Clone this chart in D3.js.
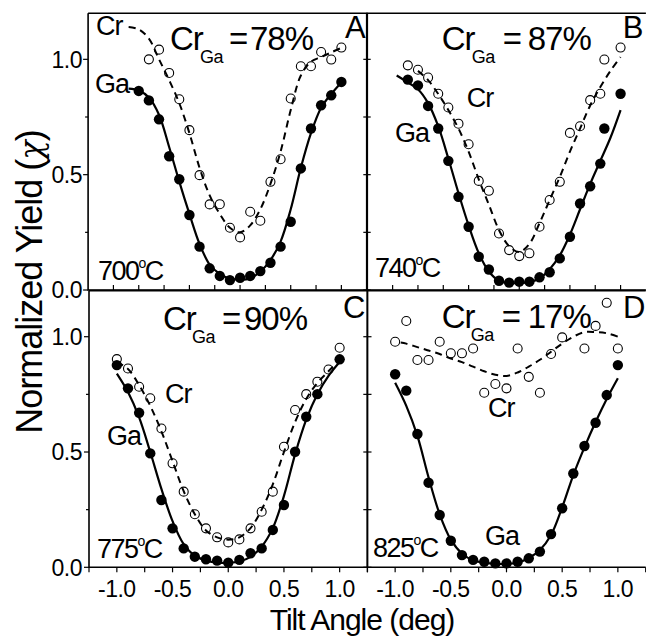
<!DOCTYPE html>
<html><head><meta charset="utf-8">
<script src="https://cdn.jsdelivr.net/npm/d3@7"></script>
<style>html,body{margin:0;padding:0;background:#fff}svg{display:block}text{font-family:"Liberation Sans",Arial,sans-serif;fill:#000}</style>
</head><body>
<script>
// ---------- DATA ----------
const tilt = [-1.0,-0.9,-0.8,-0.7,-0.6,-0.5,-0.4,-0.3,-0.2,-0.1,0.0,0.1,0.2,0.3,0.4,0.5,0.6,0.7,0.8,0.9,1.0];
const xTickLabels = ["-1.0","-0.5","0.0","0.5","1.0"];
const yTickLabels = ["0.0","0.5","1.0"];

// Panel A (700 C)
const aGaX = tilt;
const aGaY = [0.863,0.822,0.740,0.580,0.480,0.325,0.188,0.094,0.061,0.043,0.053,0.061,0.082,0.118,0.188,0.296,0.527,0.700,0.801,0.844,0.902];
const aCrX = tilt.slice(1);
const aCrY = [1.000,1.042,0.941,0.827,0.693,0.498,0.371,0.372,0.270,0.228,0.339,0.300,0.469,0.567,0.830,0.970,0.970,1.032,0.999,1.051];
const aGaFitX = [-1.1].concat(tilt);
const aGaFitY = [0.873,0.865,0.835,0.76,0.62,0.47,0.33,0.20,0.11,0.07,0.05,0.045,0.05,0.08,0.13,0.21,0.35,0.53,0.68,0.79,0.85,0.90];
const aCrFitX = [-1.1].concat(tilt);
const aCrFitY = [1.14,1.13,1.09,1.00,0.91,0.81,0.68,0.53,0.41,0.33,0.27,0.25,0.28,0.35,0.46,0.60,0.78,0.93,0.99,1.01,1.03,1.05];

// Panel B (740 C)
const bX = [-1.1,-1.0,-0.9,-0.8,-0.7,-0.6,-0.5,-0.4,-0.3,-0.2,-0.1,0.0,0.1,0.2,0.3,0.4,0.5,0.6,0.7,0.8,0.84,1.0];
const bGaY = [0.912,0.887,0.798,0.700,0.560,0.404,0.274,0.144,0.089,0.040,0.032,0.036,0.036,0.055,0.077,0.137,0.231,0.375,0.450,0.548,0.700,0.851];
const bCrY = [0.974,0.955,0.921,0.851,0.791,0.721,0.632,0.473,0.430,0.245,0.173,0.147,0.159,0.274,0.390,0.469,0.681,0.710,0.823,0.851,0.999,1.051];
const bGaFitX = [-1.21,-1.1].concat(tilt);
const bGaFitY = [0.93,0.90,0.87,0.81,0.71,0.57,0.42,0.28,0.16,0.08,0.04,0.03,0.03,0.035,0.05,0.09,0.15,0.24,0.35,0.46,0.56,0.66,0.78];
const bCrFitX = tilt;
const bCrFitY = [0.95,0.91,0.85,0.78,0.70,0.60,0.48,0.37,0.26,0.19,0.165,0.20,0.29,0.39,0.49,0.60,0.70,0.80,0.88,0.95,1.01];

// Panel C (775 C)
const cGaX = tilt.filter(v => v !== 0.9);
const cGaY = [0.877,0.776,0.670,0.494,0.292,0.169,0.082,0.046,0.035,0.029,0.020,0.032,0.061,0.082,0.162,0.270,0.501,0.653,0.751,0.902];
const cCrX = tilt;
const cCrY = [0.903,0.862,0.783,0.733,0.602,0.451,0.328,0.230,0.169,0.130,0.108,0.121,0.169,0.241,0.328,0.523,0.682,0.751,0.805,0.858,0.952];
const cGaFitY = [0.84,0.76,0.65,0.50,0.34,0.20,0.10,0.05,0.03,0.02,0.02,0.025,0.045,0.09,0.17,0.31,0.49,0.64,0.75,0.83,0.89];
const cCrFitY = [0.89,0.86,0.79,0.70,0.59,0.46,0.33,0.23,0.16,0.13,0.12,0.13,0.17,0.25,0.36,0.50,0.63,0.73,0.80,0.85,0.90];

// Panel D (825 C)
const dGaX = tilt;
const dGaY = [0.837,0.766,0.578,0.367,0.227,0.115,0.053,0.032,0.024,0.017,0.017,0.024,0.039,0.068,0.144,0.256,0.407,0.526,0.627,0.747,0.877];
const dCrX = tilt.filter(v => v !== 0.6);
const dCrY = [0.978,1.068,0.899,0.899,0.978,0.928,0.928,0.949,0.757,0.795,0.776,0.949,0.826,0.757,0.925,0.997,0.949,1.047,1.147,0.949];
const dGaFitY = [0.80,0.70,0.57,0.39,0.23,0.12,0.06,0.03,0.02,0.015,0.015,0.02,0.04,0.075,0.14,0.26,0.40,0.52,0.63,0.73,0.82];
const dCrFitX = [-0.95].concat(tilt.slice(1));
const dCrFitY = [0.975,0.97,0.955,0.94,0.925,0.905,0.89,0.87,0.85,0.835,0.83,0.845,0.87,0.90,0.935,0.97,1.0,1.02,1.02,1.015,1.0];

const crGaText = ["= 78%","= 87%","= 90%","= 17%"];
const tempText = ["700","740","775","825"];
const panelLetters = ["A","B","C","D"];

// ---------- LAYOUT ----------
const W = 646, H = 643;
const svg = d3.select("body").append("svg").attr("width", W).attr("height", H);
const zip = (xs, ys) => xs.map((x, i) => [x, ys[i]]);

const panels = [
  {xd:[-1.5,1.25], xr:[88.1,366.7], yr:[290,13.2],
   ga:zip(aGaX,aGaY), cr:zip(aCrX,aCrY), gaFit:zip(aGaFitX,aGaFitY), crFit:zip(aCrFitX,aCrFitY),
   lab:{cr:[170,50,[0,30,59,80]], L:[345,38], crl:[96,35], gal:[95,93], t:[98,280]}},
  {xd:[-1.5,1.25], xr:[367.3,645.9], yr:[290,13.2],
   ga:zip(bX,bGaY), cr:zip(bX,bCrY), gaFit:zip(bGaFitX,bGaFitY), crFit:zip(bCrFitX,bCrFitY),
   lab:{cr:[441.7,50,[0,30,61,86]], L:[622.7,38], crl:[466.7,107], gal:[395,142], t:[375,277]}},
  {xd:[-1.25,1.25], xr:[89,367.5], yr:[567.3,290.6],
   ga:zip(cGaX,cGaY), cr:zip(cCrX,cCrY), gaFit:zip(tilt,cGaFitY), crFit:zip(tilt,cCrFitY),
   lab:{cr:[163,330,[0,29,59,81]], L:[343,318], crl:[165,403], gal:[107,445], t:[97,558]}},
  {xd:[-1.25,1.25], xr:[367.3,645.7], yr:[567.3,290.6],
   ga:zip(dGaX,dGaY), cr:zip(dCrX,dCrY), gaFit:zip(tilt,dGaFitY), crFit:zip(dCrFitX,dCrFitY),
   lab:{cr:[441.7,328,[0,29,60,86]], L:[623,318], crl:[488,417], gal:[485,545], t:[373,557]}}
];

const tickVals = [-1.25,-1.0,-0.75,-0.5,-0.25,0,0.25,0.5,0.75,1.0,1.25];
const yTickVals = [0,0.25,0.5,0.75,1.0];

panels.forEach((p, i) => {
  const x = d3.scaleLinear().domain(p.xd).range(p.xr);
  const y = d3.scaleLinear().domain([0,1.2]).range(p.yr);
  const g = svg.append("g");
  const line = d3.line().x(d => x(d[0])).y(d => y(d[1])).curve(d3.curveCatmullRom.alpha(0.5));

  // open circles (Cr)
  g.selectAll("circle.cr").data(p.cr).join("circle").attr("class","cr")
    .attr("cx", d => x(d[0])).attr("cy", d => y(d[1])).attr("r", 4.5)
    .attr("fill","#fff").attr("stroke","#000").attr("stroke-width",1.1);
  // filled circles (Ga)
  g.selectAll("circle.ga").data(p.ga).join("circle").attr("class","ga")
    .attr("cx", d => x(d[0])).attr("cy", d => y(d[1])).attr("r", 5.2)
    .attr("fill","#000");
  // fits
  g.append("path").datum(p.crFit).attr("d", line).attr("fill","none")
    .attr("stroke","#000").attr("stroke-width",2).attr("stroke-dasharray","7,5");
  g.append("path").datum(p.gaFit).attr("d", line).attr("fill","none")
    .attr("stroke","#000").attr("stroke-width",2.2);

  // frame (right edge of the right-hand panels lies outside the picture)
  const [x0,x1] = p.xr, [yb,yt] = p.yr;
  const isLeft = (i % 2 === 0);
  const fr = isLeft
    ? [[x0,yt],[x1,yt],[x1,yb],[x0,yb],[x0,yt]]
    : [[x1,yt],[x0,yt],[x0,yb],[x1,yb]];
  g.append("path").attr("d", d3.line()(fr)).attr("fill","none")
    .attr("stroke","#000").attr("stroke-width",1.6);

  // x ticks
  const xt = tickVals.filter(v => x(v) > x0 + 1 && x(v) < x1 - 1);
  if (i < 2) {
    g.selectAll("line.xt").data(xt).join("line").attr("class","xt")
      .attr("x1", d => x(d)).attr("x2", d => x(d)).attr("y1", yb).attr("y2", yb - 5)
      .attr("stroke","#000").attr("stroke-width",1.2);
  } else {
    g.selectAll("line.xt").data(tickVals).join("line").attr("class","xt")
      .attr("x1", d => x(d)).attr("x2", d => x(d)).attr("y1", yb).attr("y2", yb + 5)
      .attr("stroke","#000").attr("stroke-width",1.2);
    g.selectAll("text.xl").data(xTickLabels).join("text").attr("class","xl")
      .attr("x", d => x(+d)).attr("y", 597).attr("text-anchor","middle")
      .attr("font-size",23).attr("letter-spacing",-0.5).text(d => d);
  }
  // y ticks
  if (isLeft) {
    g.selectAll("line.yl").data(yTickVals).join("line").attr("class","yl")
      .attr("x1", x0).attr("x2", d => x0 - (d * 2 % 1 === 0 ? 5 : 3))
      .attr("y1", d => y(d)).attr("y2", d => y(d)).attr("stroke","#000").attr("stroke-width",1.2);
    g.selectAll("line.yr").data(yTickVals).join("line").attr("class","yr")
      .attr("x1", x1).attr("x2", x1 + 4)
      .attr("y1", d => y(d)).attr("y2", d => y(d)).attr("stroke","#000").attr("stroke-width",1.2);
    g.selectAll("text.yl").data(yTickLabels).join("text").attr("class","yl")
      .attr("x", 82).attr("y", d => y(+d)).attr("dy","0.36em").attr("text-anchor","end")
      .attr("font-size",23).attr("letter-spacing",-0.5).text(d => d);
  } else {
    g.selectAll("line.yl").data(yTickVals).join("line").attr("class","yl")
      .attr("x1", x0).attr("x2", x0 - 4)
      .attr("y1", d => y(d)).attr("y2", d => y(d)).attr("stroke","#000").attr("stroke-width",1.2);
  }

  // annotations
  const L = p.lab;
  const t = (xx, yy, s, fs) => g.append("text").attr("x", xx).attr("y", yy).attr("font-size", fs)
      .attr("letter-spacing", -1).text(s);
  t(L.cr[0] + L.cr[2][0], L.cr[1], "Cr", 33);
  t(L.cr[0] + L.cr[2][1], L.cr[1] + 13, "Ga", 18).attr("letter-spacing", -0.5);
  t(L.cr[0] + L.cr[2][2], L.cr[1], crGaText[i].split(" ")[0], 33);
  t(L.cr[0] + L.cr[2][3], L.cr[1], crGaText[i].split(" ")[1], 33);
  t(L.L[0], L.L[1], panelLetters[i], 31);
  t(L.crl[0], L.crl[1], "Cr", 27);
  t(L.gal[0], L.gal[1], "Ga", 27);
  const tt = g.append("text").attr("x", L.t[0]).attr("y", L.t[1]).attr("font-size", 27).attr("letter-spacing", -1.5);
  tt.append("tspan").text(tempText[i]);
  tt.append("tspan").attr("font-size", 14).attr("dy", -12).text("o");
  tt.append("tspan").attr("dy", 12).text("C");
});

// axis titles
svg.append("text").attr("x", 362).attr("y", 630).attr("text-anchor","middle")
  .attr("font-size", 30).attr("letter-spacing", -1).text("Tilt Angle (deg)");
const yt = svg.append("text").attr("transform","translate(42,282) rotate(-90)")
  .attr("text-anchor","middle").attr("font-size", 36).attr("letter-spacing", -1);
yt.append("tspan").text("Normalized Yield (");
yt.append("tspan").attr("font-family","'DejaVu Serif',serif").attr("font-style","italic").attr("font-size",32).text("χ");
yt.append("tspan").text(")");
</script>
</body></html>
